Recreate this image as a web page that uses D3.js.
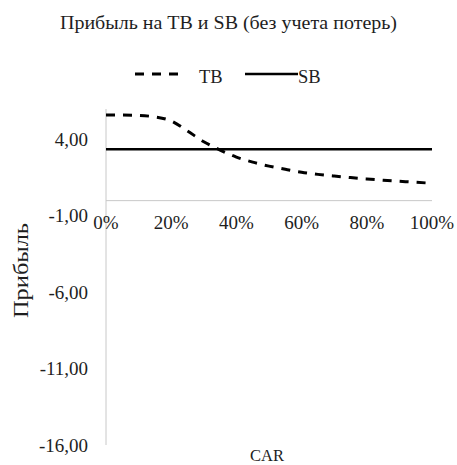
<!DOCTYPE html>
<html>
<head>
<meta charset="utf-8">
<script src="https://cdn.jsdelivr.net/npm/d3@7"></script>
<style>
  html, body { margin: 0; padding: 0; background: #fff; }
  text { font-family: "Liberation Serif", "Times New Roman", serif; fill: #1e1e1e; }
</style>
</head>
<body>
<svg id="chart" width="457" height="465"></svg>
<script>
// CAR share (%) at which profit was computed
const car = [0, 5, 10, 15, 20, 25, 30, 35, 40, 45, 50, 55, 60, 65, 70, 75, 80, 85, 90, 95, 100];
// Profit of the TB strategy
const tbProfit = [5.60, 5.60, 5.58, 5.48, 5.22, 4.56, 3.86, 3.31, 2.85, 2.52, 2.26, 2.05, 1.86, 1.72, 1.61, 1.51, 1.42, 1.34, 1.27, 1.20, 1.14];
// Profit of the SB strategy (constant)
const sbProfit = car.map(() => 3.36);
const yTicks = [-16, -11, -6, -1, 4];
const xTicks = [0, 20, 40, 60, 80, 100];

const svg = d3.select("#chart");
const plotLeft = 106, plotRight = 432, plotTop = 109, plotBottom = 445;

const x = d3.scaleLinear().domain([0, 100]).range([plotLeft, plotRight]);
const y = d3.scaleLinear().domain([-16, 6]).range([plotBottom, plotTop]);

const fmt = v => d3.format(".2f")(v).replace(".", ",").replace("−", "-");

// Title
svg.append("text")
  .attr("x", 228.5).attr("y", 29)
  .attr("text-anchor", "middle")
  .attr("font-size", 18.5)
  .attr("textLength", 337).attr("lengthAdjust", "spacingAndGlyphs")
  .text("Прибыль на TB и SB (без учета потерь)");

// Legend
const legend = svg.append("g");
legend.append("line")
  .attr("x1", 135).attr("x2", 182).attr("y1", 74).attr("y2", 74)
  .attr("stroke", "#000").attr("stroke-width", 3).attr("stroke-dasharray", "9,8");
legend.append("text").attr("x", 199).attr("y", 83).attr("font-size", 18.5).text("TB");
legend.append("line")
  .attr("x1", 245).attr("x2", 298).attr("y1", 74).attr("y2", 74)
  .attr("stroke", "#000").attr("stroke-width", 2.5);
legend.append("text").attr("x", 298).attr("y", 83).attr("font-size", 18.5).text("SB");

// Vertical axis line
svg.append("line")
  .attr("x1", plotLeft).attr("x2", plotLeft).attr("y1", plotTop).attr("y2", plotBottom)
  .attr("stroke", "#c8c8c8").attr("stroke-width", 1);

// Horizontal axis line at zero
svg.append("line")
  .attr("x1", plotLeft).attr("x2", plotRight).attr("y1", y(0)).attr("y2", y(0))
  .attr("stroke", "#c8c8c8").attr("stroke-width", 1);

// Y tick labels
svg.append("g").selectAll("text").data(yTicks).join("text")
  .attr("x", 88).attr("y", d => y(d) + 6.5)
  .attr("text-anchor", "end")
  .attr("font-size", 19)
  .text(fmt);

// X tick labels
svg.append("g").selectAll("text").data(xTicks).join("text")
  .attr("x", d => x(d)).attr("y", 229)
  .attr("text-anchor", "middle")
  .attr("font-size", 19)
  .text(d => d + "%");

// Axis titles
svg.append("text")
  .attr("transform", "translate(28,270.5) rotate(-90)")
  .attr("text-anchor", "middle")
  .attr("font-size", 22)
  .attr("textLength", 95).attr("lengthAdjust", "spacingAndGlyphs")
  .text("Прибыль");

svg.append("text")
  .attr("x", 267).attr("y", 461)
  .attr("text-anchor", "middle")
  .attr("font-size", 16.5)
  .text("CAR");

// Series
const line = d3.line().x((d, i) => x(car[i])).y(d => y(d)).curve(d3.curveMonotoneX);

svg.append("path")
  .datum(sbProfit)
  .attr("fill", "none").attr("stroke", "#000").attr("stroke-width", 2.5)
  .attr("d", line);

svg.append("path")
  .datum(tbProfit)
  .attr("fill", "none").attr("stroke", "#000").attr("stroke-width", 3)
  .attr("stroke-dasharray", "9,8")
  .attr("d", line);
</script>
</body>
</html>
